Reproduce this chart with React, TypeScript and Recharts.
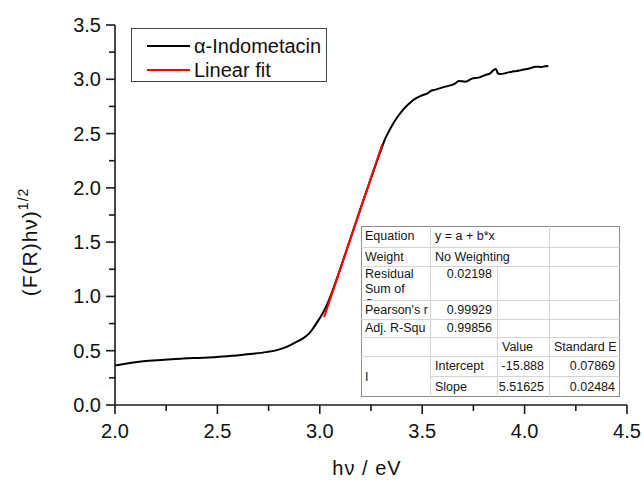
import React from 'react';
import { LineChart, Line, XAxis, YAxis } from 'recharts';

// ---------- data ----------
const curveX = [
  2.0, 2.073, 2.138, 2.243, 2.332, 2.43, 2.495, 2.592, 2.673, 2.738, 2.786, 2.835, 2.884, 2.916, 2.948,
  2.965, 2.981, 3.0, 3.02, 3.04, 3.06, 3.08, 3.1, 3.15, 3.2, 3.25, 3.28, 3.3, 3.32, 3.34, 3.36, 3.38,
  3.402, 3.43, 3.451, 3.467, 3.5, 3.532, 3.54, 3.565, 3.613, 3.662, 3.678, 3.711, 3.743, 3.775, 3.808,
  3.832, 3.848, 3.86, 3.869, 3.881, 3.91, 3.937, 3.96, 3.986, 4.01, 4.035, 4.051, 4.083, 4.1, 4.116,
];
const curveY = [
  0.364, 0.386, 0.404, 0.417, 0.429, 0.435, 0.441, 0.457, 0.472, 0.487, 0.503, 0.533, 0.579, 0.611, 0.66,
  0.70, 0.745, 0.80, 0.865, 0.945, 1.04, 1.145, 1.255, 1.535, 1.815, 2.09, 2.25, 2.355, 2.455, 2.53, 2.598,
  2.655, 2.71, 2.765, 2.8, 2.822, 2.853, 2.878, 2.892, 2.905, 2.932, 2.962, 2.984, 2.978, 3.006, 3.015,
  3.04, 3.055, 3.084, 3.094, 3.057, 3.048, 3.058, 3.07, 3.076, 3.086, 3.094, 3.107, 3.116, 3.113, 3.12,
  3.123,
];
const fitX = [3.021, 3.305];
const fitY = [0.81, 2.4];

const xTicks = [2.0, 2.25, 2.5, 2.75, 3.0, 3.25, 3.5, 3.75, 4.0, 4.25, 4.5];
const yTicks = [0, 0.25, 0.5, 0.75, 1.0, 1.25, 1.5, 1.75, 2.0, 2.25, 2.5, 2.75, 3.0, 3.25, 3.5];

const legendLabels = ['\u03b1-Indometacin', 'Linear fit'];
const xTitle = 'h\u03bd / eV';
const yTitle = '(F(R)h\u03bd)';
const yTitleSup = '1/2';

const tableCells = [
  { r: 0, c: 0, text: 'Equation' },
  { r: 0, c: 1, cs: 2, text: 'y = a + b*x' },
  { r: 0, c: 3, text: '' },
  { r: 1, c: 0, text: 'Weight' },
  { r: 1, c: 1, cs: 2, text: 'No Weighting' },
  { r: 1, c: 3, text: '' },
  { r: 2, c: 0, text: 'Residual Sum of Squares', wrap: true },
  { r: 2, c: 1, text: '0.02198', right: true, top: true },
  { r: 2, c: 2, text: '' },
  { r: 2, c: 3, text: '' },
  { r: 3, c: 0, text: "Pearson's r" },
  { r: 3, c: 1, text: '0.99929', right: true },
  { r: 3, c: 2, text: '' },
  { r: 3, c: 3, text: '' },
  { r: 4, c: 0, text: 'Adj. R-Squ' },
  { r: 4, c: 1, text: '0.99856', right: true },
  { r: 4, c: 2, text: '' },
  { r: 4, c: 3, text: '' },
  { r: 5, c: 0, text: '' },
  { r: 5, c: 1, text: '' },
  { r: 5, c: 2, text: 'Value' },
  { r: 5, c: 3, text: 'Standard E' },
  { r: 6, c: 0, rs: 2, text: 'I' },
  { r: 6, c: 1, text: 'Intercept' },
  { r: 6, c: 2, text: '-15.888', right: true },
  { r: 6, c: 3, text: '0.07869', right: true },
  { r: 7, c: 1, text: 'Slope' },
  { r: 7, c: 2, text: '5.51625', right: true },
  { r: 7, c: 3, text: '0.02484', right: true },
];

// ---------- derived ----------
const curveData = curveX.map((x, i) => ({ x, y: curveY[i] }));
const fitData = fitX.map((x, i) => ({ x, y: fitY[i] }));

const FONT = "'Liberation Sans', Arial, Helvetica, sans-serif";
const AXIS = '#1a1a1a';

const isMajor = (v: number) => Math.abs(v * 2 - Math.round(v * 2)) < 1e-6;

const XTick = (props: any) => {
  const { x, y, payload } = props;
  const v = payload.value as number;
  const major = isMajor(v);
  return (
    <g>
      <line x1={x} x2={x} y1={y} y2={y + (major ? 9 : 6)} stroke={AXIS} strokeWidth={1.6} />
      {major && (
        <text x={x} y={y + 33} textAnchor="middle" fontSize={20} fontFamily={FONT} fill="#111">
          {v.toFixed(1)}
        </text>
      )}
    </g>
  );
};

const YTick = (props: any) => {
  const { x, y, payload } = props;
  const v = payload.value as number;
  const major = isMajor(v);
  return (
    <g>
      <line x1={x} x2={x - (major ? 9 : 6)} y1={y} y2={y} stroke={AXIS} strokeWidth={1.6} />
      {major && (
        <text x={x - 14} y={y + 7} textAnchor="end" fontSize={20} fontFamily={FONT} fill="#111">
          {v.toFixed(1)}
        </text>
      )}
    </g>
  );
};

const XTitle = (props: any) => {
  const vb = props.viewBox || { x: 115, y: 405, width: 512 };
  return (
    <text
      x={vb.x + vb.width / 2 - 4}
      y={475}
      textAnchor="middle"
      fontSize={20}
      letterSpacing={1}
      fontFamily={FONT}
      fill="#111"
    >
      {xTitle}
    </text>
  );
};

const YTitle = () => (
  <text
    transform="translate(37,242) rotate(-90)"
    textAnchor="middle"
    fontSize={21}
    letterSpacing={1}
    fontFamily={FONT}
    fill="#111"
  >
    {yTitle}
    <tspan fontSize={14} dy={-9}>{yTitleSup}</tspan>
  </text>
);

const colEdges = [361, 431, 498, 550, 620];
const rowEdges = [226, 248, 267, 301, 320, 338, 357, 377, 397];

const FitTable = () => {
  const left = colEdges[0];
  const top = rowEdges[0];
  return (
    <div
      style={{
        position: 'absolute',
        left,
        top,
        width: colEdges[4] - left,
        height: rowEdges[8] - top,
        background: '#fff',
        boxSizing: 'border-box',
        border: '1px solid #8c8c8c',
        fontFamily: FONT,
        fontSize: 12.5,
        color: '#151515',
      }}
    >
      {tableCells.map((cell, i) => {
        const cs = (cell as any).cs || 1;
        const rs = (cell as any).rs || 1;
        const x0 = colEdges[cell.c] - left;
        const x1 = colEdges[cell.c + cs] - left;
        const y0 = rowEdges[cell.r] - top;
        const y1 = rowEdges[cell.r + rs] - top;
        const lastCol = cell.c + cs === 4;
        const lastRow = cell.r + rs === 8;
        const wrap = (cell as any).wrap;
        const topAlign = (cell as any).top || wrap;
        return (
          <div
            key={i}
            style={{
              position: 'absolute',
              left: x0 - 1,
              top: y0 - 1,
              width: x1 - x0,
              height: y1 - y0,
              boxSizing: 'border-box',
              borderRight: lastCol ? 'none' : '1px solid #d4d4d4',
              borderBottom: lastRow ? 'none' : '1px solid #d4d4d4',
              overflow: 'hidden',
              display: 'flex',
              alignItems: topAlign ? 'flex-start' : 'center',
              justifyContent: (cell as any).right ? 'flex-end' : 'flex-start',
              padding: '0 5px 0 4px',
              lineHeight: '15px',
              whiteSpace: wrap ? 'normal' : 'nowrap',
            }}
          >
            {cell.text}
          </div>
        );
      })}
    </div>
  );
};

const LegendBox = () => (
  <div
    style={{
      position: 'absolute',
      left: 131,
      top: 28,
      width: 196,
      height: 54,
      boxSizing: 'border-box',
      border: '1px solid #444',
      background: '#fff',
      fontFamily: FONT,
      fontSize: 20,
      color: '#111',
    }}
  >
    {legendLabels.map((lab, i) => (
      <div key={lab} style={{ position: 'absolute', left: 0, top: 5 + i * 24, height: 24, width: 194 }}>
        <div
          style={{
            position: 'absolute',
            left: 15,
            top: 11,
            width: 43,
            height: 2,
            background: i === 0 ? '#000' : '#ff0000',
          }}
        />
        <div style={{ position: 'absolute', left: 62, top: 0, lineHeight: '24px', whiteSpace: 'nowrap' }}>{lab}</div>
      </div>
    ))}
  </div>
);

export default function App() {
  return (
    <div style={{ position: 'absolute', left: 0, top: 0, width: 644, height: 483, background: '#fff' }}>
      <LineChart width={644} height={483} margin={{ top: 25, right: 17, bottom: 0, left: 0 }}>
        <XAxis
          dataKey="x"
          type="number"
          domain={[2, 4.5]}
          ticks={xTicks}
          interval={0}
          height={78}
          tickSize={0}
          tickMargin={0}
          tickLine={false}
          tick={<XTick />}
          axisLine={{ stroke: AXIS, strokeWidth: 1.6 }}
          allowDataOverflow
          label={<XTitle />}
        />
        <YAxis
          type="number"
          domain={[0, 3.5]}
          ticks={yTicks}
          interval={0}
          width={115}
          tickSize={0}
          tickMargin={0}
          tickLine={false}
          tick={<YTick />}
          axisLine={{ stroke: AXIS, strokeWidth: 1.6 }}
          allowDataOverflow
          label={<YTitle />}
        />
        <Line
          data={curveData}
          dataKey="y"
          type="monotone"
          stroke="#000"
          strokeWidth={2}
          dot={false}
          activeDot={false}
          isAnimationActive={false}
        />
        <Line
          data={fitData}
          dataKey="y"
          type="linear"
          stroke="#ff0000"
          strokeWidth={2}
          dot={false}
          activeDot={false}
          isAnimationActive={false}
        />
      </LineChart>
      <LegendBox />
      <FitTable />
    </div>
  );
}
